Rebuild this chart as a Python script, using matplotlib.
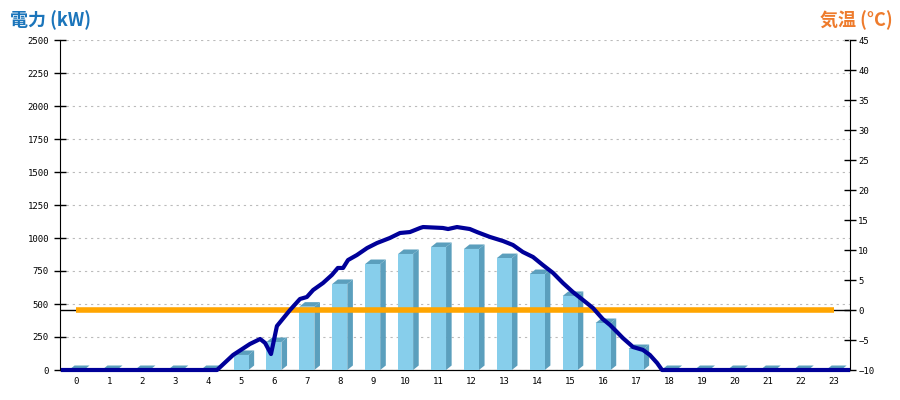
import matplotlib
matplotlib.use("Agg")
import matplotlib.pyplot as plt
from matplotlib.patches import Polygon
import numpy as np

plt.rcParams['font.family'] = ['Noto Sans CJK JP', 'DejaVu Sans']

# 時間別の電力 (kW)
horas = list(range(24))
potencia_barras = [0, 0, 0, 0, 0, 114, 212, 480, 652, 803, 879, 932,
                   917, 848, 727, 561, 356, 159, 0, 0, 0, 0, 0, 0]

# 気温 (°C) - todos em zero
temperatura = [0] * 24

# curva de potência (tempo em horas, kW)
curva_t = [0.09, 4.77, 5.26, 5.77, 6.08, 6.23, 6.41, 6.59, 6.99, 7.29, 7.50,
           7.69, 7.99, 8.26, 8.44, 8.60, 8.75, 9.02, 9.33, 9.63, 10.02, 10.33,
           10.63, 10.94, 11.03, 11.63, 11.79, 12.06, 12.45, 12.67, 13.06,
           13.46, 13.76, 14.06, 14.37, 14.67, 14.98, 15.28, 15.58, 15.89,
           16.19, 16.49, 16.71, 16.92, 17.10, 17.41, 17.71, 17.92, 18.14,
           18.29, 23.94]
curva_kw = [0, 0, 114, 197, 235, 205, 121, 333, 455, 538, 553,
            606, 659, 720, 773, 773, 833, 871, 924, 962, 1000, 1038,
            1045, 1076, 1083, 1076, 1068, 1083, 1068, 1045, 1008,
            977, 947, 894, 856, 795, 735, 659, 591, 530,
            470, 386, 341, 288, 242, 174, 152, 114, 53,
            0, 0]

cor_frente = '#87ceeb'
cor_lado = '#5b9fbd'
largura = 0.456
dx, dy = 0.17, 34  # profundidade do efeito 3D

fig = plt.figure(figsize=(9, 4), dpi=100)
ax = fig.add_axes([60 / 900, 1 - 370 / 400, 790 / 900, 330 / 400])
ax2 = ax.twinx()

ax.set_xlim(0, 24)
ax.set_ylim(0, 2500)
ax2.set_ylim(-10, 45)
ax.set_zorder(ax2.get_zorder() + 1)
ax.patch.set_visible(False)

x_centros = np.array(horas) + 0.5

# barras 3D
for xc, v in zip(x_centros, potencia_barras):
    x0, x1 = xc - largura / 2, xc + largura / 2
    ax.add_patch(Polygon([(x1, 0), (x1 + dx, dy), (x1 + dx, v + dy), (x1, v)],
                         closed=True, facecolor=cor_lado, edgecolor='none', zorder=2))
    ax.add_patch(Polygon([(x0, v), (x0 + dx, v + dy), (x1 + dx, v + dy), (x1, v)],
                         closed=True, facecolor=cor_lado, edgecolor='none', zorder=2))
ax.bar(x_centros, potencia_barras, width=largura, color=cor_frente, zorder=3)

# grade
ax.set_yticks(range(0, 2501, 250))
ax.yaxis.grid(True, linestyle=(0, (2, 3.5)), color='#bbbbbb', linewidth=0.8, zorder=0)
ax.set_axisbelow(True)

# linha zero da temperatura e temperatura (na escala do eixo direito)
ax.plot([0, 24], [0, 0], color='black', linewidth=1, zorder=3.5, transform=ax2.transData)
ax.plot(x_centros, temperatura, color='#ffa500', linewidth=4, solid_capstyle='butt',
        zorder=4, transform=ax2.transData)
ax2.set_yticks(range(-10, 46, 5))

# curva de potência por cima de tudo
ax.plot(curva_t, curva_kw, color='#000099', linewidth=3, zorder=5, clip_on=False)

ax.set_xticks(x_centros)
ax.set_xticklabels([str(h) for h in horas])

for a in (ax, ax2):
    a.spines['top'].set_visible(False)
    for lbl in a.get_yticklabels() + a.get_xticklabels():
        lbl.set_fontfamily('DejaVu Sans Mono')
        lbl.set_fontsize(6.5)
ax.tick_params(axis='x', length=0, pad=5)
ax.tick_params(axis='y', direction='inout', length=8, width=1, pad=4)
ax2.tick_params(axis='y', direction='inout', length=8, width=1, pad=2)
ax2.tick_params(axis='x', length=0)
ax.spines['right'].set_visible(False)
ax2.spines['left'].set_visible(False)

fig.text(10 / 900, 1 - 20 / 400, '電力 (kW)', color='#1b75bb', fontsize=13,
         fontweight='bold', va='center', ha='left')
fig.text(893 / 900, 1 - 20 / 400, '気温 (°C)', color='#ee7b2c', fontsize=13,
         fontweight='bold', va='center', ha='right')

fig.savefig('out.png', dpi=100)
